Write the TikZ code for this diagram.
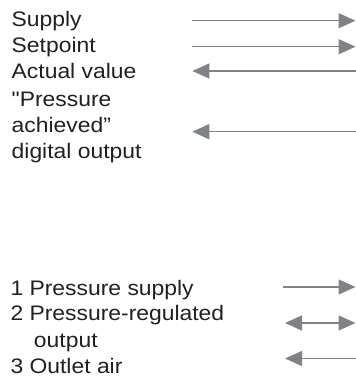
\documentclass[tikz,border=0pt]{standalone}
\usepackage{fontspec}
\setmainfont{Liberation Sans}[FakeStretch=1.09, Ligatures=TeXOff]
\usetikzlibrary{arrows.meta}
\definecolor{txt}{HTML}{231F20}
\definecolor{arrgray}{HTML}{808285}
\tikzset{
  lbl/.style={anchor=base west, inner sep=0pt, outer sep=0pt, text=txt, font=\fontsize{21}{25}\selectfont},
  conn/.style={draw=arrgray, line width=1.3pt},
  tipR/.style={-{Triangle[length=17pt,width=15pt]}},
  tipL/.style={{Triangle[length=17pt,width=15pt]}-},
  tipLR/.style={{Triangle[length=17pt,width=15pt]}-{Triangle[length=17pt,width=15pt]}}
}
\begin{document}
\begin{tikzpicture}[x=1pt,y=-1pt]
\useasboundingbox (0,0) rectangle (356,378);
% top labels
\node[lbl] (supply) at (11.7,26.8) {Supply};
\node[lbl] (setpoint) at (11.7,52.6) {Setpoint};
\node[lbl] (actual) at (11.7,78) {Actual value};
\node[lbl] (press1) at (11.7,106.5) {"Pressure};
\node[lbl] (press2) at (11.7,132.3) {achieved”};
\node[lbl] (press3) at (11.7,158) {digital output};
% bottom labels
\node[lbl] (port1) at (10.5,295) {1 Pressure supply};
\node[lbl] (port2) at (10.5,320.5) {2 Pressure-regulated};
\node[lbl] (port2b) at (34,347.5) {output};
\node[lbl] (port3) at (10.5,373) {3 Outlet air};
% connector ends
\coordinate (a1s) at (191.5,20.7);  \coordinate (a1e) at (355.5,20.7);
\coordinate (a2s) at (191.5,46.7);  \coordinate (a2e) at (355.5,46.7);
\coordinate (a3s) at (192.3,71);    \coordinate (a3e) at (356,71);
\coordinate (a4s) at (192.3,131.7); \coordinate (a4e) at (356,131.7);
\coordinate (b1s) at (283.3,287);   \coordinate (b1e) at (355.5,287);
\coordinate (b2s) at (285,323);     \coordinate (b2e) at (355.5,323);
\coordinate (b3s) at (285,358.5);   \coordinate (b3e) at (356,358.5);
% connectors
\draw[conn,tipR] (a1s) -- (a1e);
\draw[conn,tipR] (a2s) -- (a2e);
\draw[conn,tipL] (a3s) -- (a3e);
\draw[conn,tipL] (a4s) -- (a4e);
\draw[conn,tipR] (b1s) -- (b1e);
\draw[conn,tipLR] (b2s) -- (b2e);
\draw[conn,tipL] (b3s) -- (b3e);
\end{tikzpicture}
\end{document}
